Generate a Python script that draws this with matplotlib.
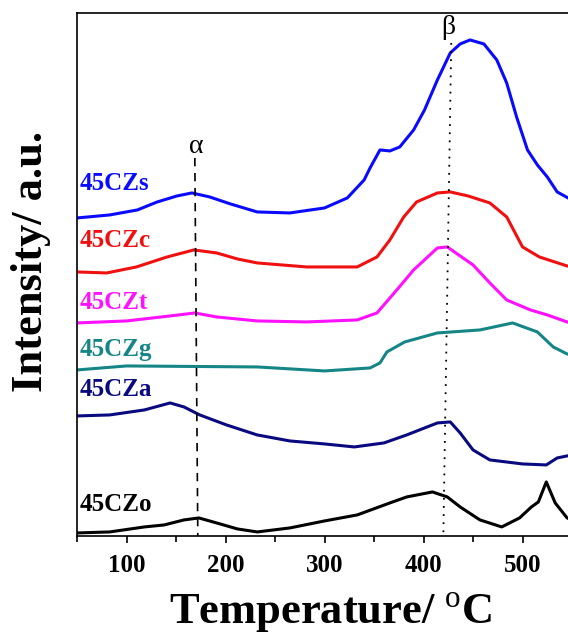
import matplotlib
matplotlib.use('Agg')
import matplotlib.pyplot as plt
from matplotlib.ticker import MultipleLocator

plt.rcParams['font.family'] = ['Liberation Serif', 'DejaVu Serif']
plt.rcParams['mathtext.fontset'] = 'custom'
plt.rcParams['mathtext.rm'] = 'Liberation Serif'

# TPR-like profiles, offsets stacked (arbitrary units)
t_s = [50, 83, 111, 131, 151, 166, 184, 205, 232, 265, 300, 323, 340, 346, 356, 366, 376, 390, 401, 414, 427, 437, 447, 461, 474, 484, 494, 505, 515, 525, 535, 546, 550]
y_s = [318, 321, 326, 334, 340, 343, 339, 332, 324, 323, 328, 338, 356, 368, 386, 385, 389, 406, 426, 456, 483, 492, 496, 492, 476, 453, 419, 386, 371, 359, 344, 338, 336]

t_c = [50, 80, 110, 141, 168, 191, 212, 232, 282, 333, 353, 366, 380, 393, 414, 427, 445, 467, 484, 500, 517, 545, 550]
y_c = [264, 263, 269, 279, 286, 283, 277, 273, 269, 269, 279, 296, 319, 334, 343, 344, 340, 333, 319, 289, 279, 270, 269]

t_t = [50, 100, 144, 169, 191, 232, 282, 333, 353, 373, 390, 414, 424, 450, 467, 484, 508, 525, 545, 550]
y_t = [213, 215, 220, 223, 219, 215, 214, 216, 223, 246, 266, 288, 289, 271, 253, 236, 226, 221, 214, 213]

t_g = [50, 100, 232, 300, 346, 356, 363, 381, 414, 457, 490, 515, 531, 545, 550]
y_g = [166, 170, 169, 165, 168, 173, 184, 194, 203, 206, 213, 204, 189, 182, 181]

t_a = [50, 83, 118, 144, 158, 174, 201, 232, 265, 300, 330, 360, 383, 414, 427, 437, 450, 467, 500, 524, 535, 545, 550]
y_a = [120, 121, 126, 133, 129, 121, 111, 101, 95, 92, 89, 93, 101, 113, 114, 103, 86, 76, 72, 71, 78, 80, 81]

t_o = [50, 83, 118, 138, 158, 173, 191, 212, 232, 265, 300, 333, 366, 383, 409, 424, 437, 457, 479, 497, 509, 516, 524, 533, 545, 550]
y_o = [3, 4, 9, 11, 16, 18, 13, 7, 4, 8, 15, 21, 33, 39, 44, 39, 29, 16, 9, 18, 29, 34, 54, 33, 18, 16]

series = [
    ('45CZs', t_s, y_s, '#0a0aff', 352),
    ('45CZc', t_c, y_c, '#f01010', 295),
    ('45CZt', t_t, y_t, '#ff10ff', 233),
    ('45CZg', t_g, y_g, '#158585', 186),
    ('45CZa', t_a, y_a, '#0a0a80', 146),
    ('45CZo', t_o, y_o, '#000000', 31),
]

fig = plt.figure(figsize=(5.68, 6.35), dpi=100)
ax = fig.add_axes([0.1356, 0.156, 0.8715, 0.8236])

for name, t, y, col, ly in series:
    ax.plot(t, y, color=col, lw=2.2, solid_joinstyle='round', solid_capstyle='round')
    ax.text(53, ly, name, color=col, fontsize=18, fontweight='bold', va='center', ha='left')

# peak markers
ax.plot([169, 172], [378, 0], color='black', lw=1.2, ls=(0, (5, 4)))
ax.plot([428, 420], [493, 0], color='black', lw=1.3, ls=(0, (1, 3.5)))
ax.text(170, 389, 'α', fontsize=20, ha='center', va='center')
ax.text(425, 508, 'β', fontsize=20, ha='center', va='center')

ax.set_xlim(50, 550)
ax.set_ylim(0, 523)
ax.set_yticks([])
ax.xaxis.set_major_locator(MultipleLocator(100))
ax.xaxis.set_minor_locator(MultipleLocator(50))
ax.tick_params(axis='x', which='major', direction='out', length=5, width=1.2, pad=8, labelsize=18)
ax.tick_params(axis='x', which='minor', direction='out', length=4, width=1.2)
for lab in ax.get_xticklabels():
    lab.set_fontweight('bold')
for sp in ax.spines.values():
    sp.set_linewidth(1.2)

fig.text(331 / 568, 1 - 613 / 635, r'Temperature/ $^{\mathrm{o}}$C', fontsize=32,
         fontweight='bold', ha='center', va='center')
fig.text(31 / 568, 1 - 261 / 635, 'Intensity/ a.u.', fontsize=32, fontweight='bold',
         rotation=90, ha='center', va='center')

fig.savefig('out.png', dpi=100)
